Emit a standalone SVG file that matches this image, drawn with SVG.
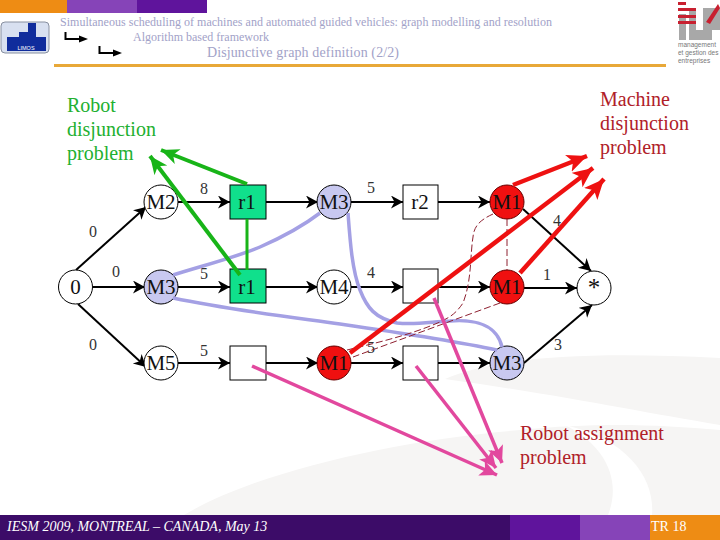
<svg xmlns="http://www.w3.org/2000/svg" width="720" height="540" viewBox="0 0 720 540">
<style>
text{font-family:"Liberation Serif","Times New Roman",serif}
.n{font-size:21px;text-anchor:middle;fill:#111}
.w{font-size:16px;text-anchor:middle;fill:#333}
.h{fill:#a2a2c8}
.c{fill:#fff;stroke:#000;stroke-width:1}
.v{fill:#c8c8f0;stroke:#000;stroke-width:1}
.r{fill:#f01010;stroke:#600;stroke-width:1}
.b{fill:#fff;stroke:#000;stroke-width:1}
.g{fill:#10e08c;stroke:#000;stroke-width:1}
.e{stroke:#000;stroke-width:2;fill:none;marker-end:url(#ab)}
.vl{stroke:#a4a0e4;stroke-width:3.500;fill:none}
.d{stroke:#8e2030;stroke-width:1;fill:none;stroke-dasharray:7 3}
.gl{stroke:#18b418;stroke-width:4;fill:none}
.rl{stroke:#ee1111;stroke-width:4.500;fill:none}
.pl{stroke:#e2489e;stroke-width:3.500;fill:none}
.lb{font-size:20px;fill:#b02028}
.lg{font-size:20px;fill:#22b030}
.sm{font-size:6.500px;fill:#777;font-family:"Liberation Sans",sans-serif}
</style>
<defs>
<marker id="ab" markerUnits="userSpaceOnUse" markerWidth="14" markerHeight="14" refX="12" refY="6.500" orient="auto"><path d="M0 0L12 6.500L0 13L3.500 6.500Z" fill="#000"/></marker>
<marker id="ag" markerUnits="userSpaceOnUse" markerWidth="20" markerHeight="18" refX="18" refY="8" orient="auto"><path d="M0 0L18 8L0 16L5 8Z" fill="#18b418"/></marker>
<marker id="ar" markerUnits="userSpaceOnUse" markerWidth="22" markerHeight="20" refX="20" refY="9" orient="auto"><path d="M0 0L20 9L0 18L5 9Z" fill="#ee1111"/></marker>
<marker id="ap" markerUnits="userSpaceOnUse" markerWidth="20" markerHeight="18" refX="17" refY="8" orient="auto"><path d="M0 0L17 8L0 16L4 8Z" fill="#e2489e"/></marker>
</defs>
<rect width="720" height="540" fill="#fff"/>
<g id="backdrop">
<path d="M445 379C500 355 600 352 720 358V425C640 412 560 395 445 379Z" fill="#f6f5f4"/>
<path d="M184 515C260 470 400 440 520 430C600 422 660 425 720 430V515Z" fill="#f6f5f4"/>
<path d="M608 515C622 480 605 445 565 425C630 440 655 480 652 515Z" fill="#fff"/>
</g>
<g id="header">
<rect x="0" y="0" width="67" height="13" fill="#ee8c14"/>
<rect x="67" y="0" width="70" height="13" fill="#8644b8"/>
<rect x="137" y="0" width="70" height="13" fill="#5f149c"/>
<rect x="54" y="64" width="612" height="3" fill="#e8a838"/>
<g id="logo-left">
<rect x="1" y="22" width="48" height="31" rx="4" fill="#d8e0f0" stroke="#8890a0" stroke-width="1"/>
<path d="M7 37H19V32H28V23H36V37H46V51H7Z" fill="#102c9c"/>
<text x="26" y="50" font-size="5.500" fill="#fff" text-anchor="middle" style="font-family:'Liberation Sans',sans-serif">LIMOS</text>
</g>
<g id="logo-right" fill="#a8a8a8">
<rect x="679" y="14" width="7" height="26"/>
<path d="M689 8H696V30H703V8H708V40H689Z"/>
<path d="M708 8H720V30H712V40H708Z"/>
<path d="M678 2H686V5H678ZM678 8H696V11H678ZM678 15H696V18H678ZM678 21H696V24H678Z" fill="#c82030"/>
<path d="M706 22L718 4L720 8L710 24Z" fill="#c82030"/>
<text class="sm" x="678" y="47">management</text>
<text class="sm" x="678" y="55">et gestion des</text>
<text class="sm" x="678" y="63">entreprises</text>
</g>
<text class="h" x="60" y="26" font-size="12" textLength="492">Simultaneous scheduling of machines and automated guided vehicles: graph modelling and resolution</text>
<text class="h" x="133" y="41" font-size="12" textLength="136">Algorithm based framework</text>
<text class="h" x="207" y="57" font-size="14" textLength="192">Disjunctive graph definition  (2/2)</text>
<path d="M65.500 32V39H81" stroke="#000" stroke-width="2" fill="none"/><path d="M79 35.500L88 39L79 42.500Z" fill="#000"/>
<path d="M99.500 46V53H115" stroke="#000" stroke-width="2" fill="none"/><path d="M113 49.500L122 53L113 56.500Z" fill="#000"/>
</g>
<g id="footer">
<rect x="0" y="515" width="510" height="25" fill="#3c0c68"/>
<rect x="510" y="515" width="70" height="25" fill="#5f149c"/>
<rect x="580" y="515" width="70" height="25" fill="#8644b8"/>
<rect x="650" y="515" width="70" height="25" fill="#ee8c14"/>
<text x="7" y="531" font-size="14" font-style="italic" fill="#fff">IESM 2009, MONTREAL – CANADA, May 13</text>
<text x="651" y="531" font-size="14" fill="#fff">TR 18</text>
</g>
<g id="connectors">
<path class="e" d="M76 270L146 207"/>
<path class="e" d="M93 287H145"/>
<path class="e" d="M78 304L146 367"/>
<path class="e" d="M178 202H230"/>
<path class="e" d="M178 287H230"/>
<path class="e" d="M178 363H230"/>
<path class="e" d="M266 202H318"/>
<path class="e" d="M266 287H318"/>
<path class="e" d="M266 363H318"/>
<path class="e" d="M351 202H403"/>
<path class="e" d="M351 287H403"/>
<path class="e" d="M351 363H403"/>
<path class="e" d="M438 202H490"/>
<path class="e" d="M438 287H490"/>
<path class="e" d="M438 363H490"/>
<path class="e" d="M523 209L591 271"/>
<path class="e" d="M524 288H577"/>
<path class="e" d="M524 363L592 305"/>
</g>
<g id="n0"><circle class="c" cx="75.500" cy="287" r="17"/><text class="n" x="75.500" y="294">0</text></g>
<g id="n-m2"><circle class="c" cx="161" cy="202" r="17"/><text class="n" x="161" y="209">M2</text></g>
<g id="n-m3a"><circle class="v" cx="161" cy="287" r="17"/><text class="n" x="161" y="294">M3</text></g>
<g id="n-m5"><circle class="c" cx="161" cy="363" r="17"/><text class="n" x="161" y="370">M5</text></g>
<g id="n-r1a"><rect class="g" x="230" y="185" width="36" height="34"/><text class="n" x="247" y="209">r1</text></g>
<g id="n-r1b"><rect class="g" x="230" y="269" width="36" height="34"/><text class="n" x="247" y="294">r1</text></g>
<g id="n-b1"><rect class="b" x="230" y="346" width="36" height="34"/></g>
<g id="n-m3b"><circle class="v" cx="334" cy="202" r="17"/><text class="n" x="334" y="209">M3</text></g>
<g id="n-m4"><circle class="c" cx="334" cy="287" r="17"/><text class="n" x="334" y="294">M4</text></g>
<g id="n-m1a"><circle class="r" cx="334" cy="363" r="17"/><text class="n" x="334" y="370">M1</text></g>
<g id="n-r2"><rect class="b" x="403" y="185" width="35" height="34"/><text class="n" x="420" y="209">r2</text></g>
<g id="n-b2"><rect class="b" x="403" y="269" width="35" height="34"/></g>
<g id="n-b3"><rect class="b" x="403" y="346" width="35" height="34"/></g>
<g id="n-m1b"><circle class="r" cx="507" cy="202" r="17"/><text class="n" x="507" y="209">M1</text></g>
<g id="n-m1c"><circle class="r" cx="507" cy="287" r="17"/><text class="n" x="507" y="294">M1</text></g>
<g id="n-m3c"><circle class="v" cx="507" cy="363" r="17"/><text class="n" x="507" y="370">M3</text></g>
<g id="n-star"><circle class="c" cx="594" cy="288" r="17"/><text class="n" x="594" y="296" style="font-size:25px">*</text></g>
<g id="weights">
<text class="w" x="93" y="237">0</text>
<text class="w" x="116" y="277">0</text>
<text class="w" x="93" y="350">0</text>
<text class="w" x="204" y="194">8</text>
<text class="w" x="204" y="279">5</text>
<text class="w" x="204" y="356">5</text>
<text class="w" x="371" y="193">5</text>
<text class="w" x="371" y="278">4</text>
<text class="w" x="371" y="353">5</text>
<text class="w" x="557" y="226">4</text>
<text class="w" x="547" y="280">1</text>
<text class="w" x="558" y="350">3</text>
</g>
<g id="overlays">
<path class="vl" d="M173 275C205 265 240 256 260 247C285 236 303 226 320 213"/>
<path class="vl" d="M173 298C230 310 290 317 340 324C395 332 450 340 497 350"/>
<path class="vl" d="M348 213C350 240 352 270 360 290C367 308 375 318 397 323C415 325 430 322 450 321C475 319 497 325 502 347"/>
<path class="d" d="M493 214C480 220 474 226 473 237C470 255 472 280 463 303C455 315 448 318 440 322C410 335 380 342 347 350"/>
<path class="d" d="M507 219V270"/>
<path class="d" d="M500 303L353 357"/>
<path class="gl" d="M247 219V270" style="stroke-width:3"/>
<path class="gl" d="M240 275L150 156" marker-end="url(#ag)"/>
<path class="gl" d="M247 184L161 150" marker-end="url(#ag)"/>
<path class="rl" d="M513 185L587 156" marker-end="url(#ar)"/>
<path class="rl" d="M350 353L593 168" marker-end="url(#ar)"/>
<path class="rl" d="M520 273L604 179" marker-end="url(#ar)"/>
<path class="pl" d="M434 298L502 463" marker-end="url(#ap)"/>
<path class="pl" d="M416 366L496 468" marker-end="url(#ap)"/>
<path class="pl" d="M252 366L497 475" marker-end="url(#ap)"/>
</g>
<g id="labels">
<text class="lg" x="67" y="112">Robot</text>
<text class="lg" x="67" y="136">disjunction</text>
<text class="lg" x="67" y="160">problem</text>
<text class="lb" x="600" y="106">Machine</text>
<text class="lb" x="600" y="130">disjunction</text>
<text class="lb" x="600" y="154">problem</text>
<text class="lb" x="520" y="440">Robot assignment</text>
<text class="lb" x="520" y="464">problem</text>
</g>
</svg>
